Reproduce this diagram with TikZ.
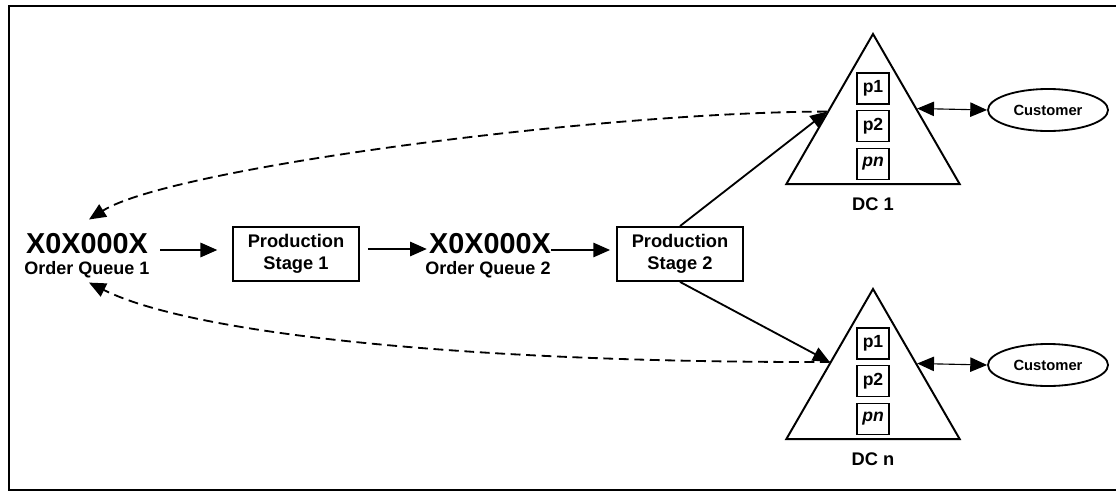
\documentclass[tikz,border=0pt]{standalone}
\usepackage{fontspec}
\setmainfont{Liberation Sans}
\usetikzlibrary{shapes.geometric,arrows.meta,positioning,calc}

\begin{document}
\begin{tikzpicture}[x=0.025cm,y=-0.025cm,
        font=\bfseries,
        frame/.style={line width=1.8pt},
        queue/.style={inner sep=0pt,font=\fontsize{20.5}{24}\selectfont\bfseries},
        qname/.style={inner sep=0pt,font=\fontsize{12.8}{15}\selectfont\bfseries},
        stage/.style={draw,line width=1.3pt,minimum width=3.15cm,minimum height=1.35cm,align=center,font=\fontsize{13}{15.6}\selectfont\bfseries},
        dc/.style={draw,line width=1.4pt,regular polygon,regular polygon sides=3,minimum size=5cm,inner sep=0pt},
        item/.style={draw,line width=1.4pt,minimum width=0.8cm,minimum height=0.775cm,inner sep=0pt,font=\fontsize{12.5}{14}\selectfont\bfseries},
        cust/.style={draw,line width=1.3pt,ellipse,minimum width=3cm,minimum height=1.05cm,inner sep=0pt,font=\fontsize{10.5}{12}\selectfont\bfseries},
        flow/.style={line width=1.3pt,-{Triangle[length=0.42cm,width=0.36cm]}},
        feedback/.style={flow,dash pattern=on 7pt off 4pt},
        link/.style={line width=0.8pt,{Triangle[length=0.42cm,width=0.36cm]}-{Triangle[length=0.42cm,width=0.36cm]}}]
        \useasboundingbox (0,0) rectangle (1116,493);
        \draw[frame] (1130,6) -- (9,6) -- (9,490) -- (1130,490);
        
        % Warteschlangen und Stufen
        \node[queue] (q1) at (87,244) {X0X000X};
        \node[qname] (q1name) at (87,270) {Order Queue 1};
        \node[stage] (ps1) at (296,254) {Production\\Stage 1};
        \node[queue] (q2) at (490,244) {X0X000X};
        \node[qname] (q2name) at (488,270) {Order Queue 2};
        \node[stage] (ps2) at (680,254) {Production\\Stage 2};
        
        % Verteilzentren
        \node[dc] (dc1) at (873,134) {};
        \node[item] (dc1p1) at (873,88.5) {p1};
        \node[item] (dc1p2) at (873,126) {p2};
        \node[item] (dc1pn) at (873,164) {\itshape pn};
        \node[inner sep=0pt,font=\fontsize{13}{15}\selectfont\bfseries,below=0.3cm of dc1.side 2] (dc1name) {DC 1};
        
        \node[dc] (dcn) at (873,389) {};
        \node[item] (dcnp1) at (873,343.5) {p1};
        \node[item] (dcnp2) at (873,381) {p2};
        \node[item] (dcnpn) at (873,419) {\itshape pn};
        \node[inner sep=0pt,font=\fontsize{13}{15}\selectfont\bfseries,below=0.3cm of dcn.side 2] (dcnname) {DC n};
        
        \node[cust] (cust1) at (1048,110) {Customer};
        \node[cust] (custn) at (1048,365) {Customer};
        
        \coordinate (dc1in) at ($(dc1.corner 1)!0.52!(dc1.corner 2)$);
        \coordinate (dcnin) at ($(dcn.corner 1)!0.49!(dcn.corner 2)$);
        \coordinate (dc1out) at ($(dc1.corner 1)!0.5!(dc1.corner 3)$);
        \coordinate (dcnout) at ($(dcn.corner 1)!0.5!(dcn.corner 3)$);
        
        % Materialfluss
        \draw[flow,shorten <=0.3cm,shorten >=0.37cm] (q1.east |- ps1.west) ++(0,-4) -- ($(ps1.west)+(0,-4)$);
        \draw[flow,shorten <=0.2cm,shorten >=0.05cm] ($(ps1.east)+(0,-5)$) -- ($(q2.west |- ps1.east)+(0,-5)$);
        \draw[flow,shorten >=0.15cm] ($(q2.east |- ps2.west)+(0,-4)$) -- ($(ps2.west)+(0,-4)$);
        \draw[flow] (ps2.north) -- (dc1in);
        \draw[flow] (ps2.south) -- (dcnin);
        
        % Rueckmeldung
        \draw[feedback] (dc1in) .. controls (600,112) and (170,168) .. ($(q1.north)+(2,-14)$);
        \draw[feedback] (dcnin) .. controls (500,363) and (200,338) .. ($(q1name.south)+(2,4)$);
        
        \draw[link] (dc1out) -- (cust1.west);
        \draw[link] (dcnout) -- (custn.west);
    \end{tikzpicture}
\end{document}
